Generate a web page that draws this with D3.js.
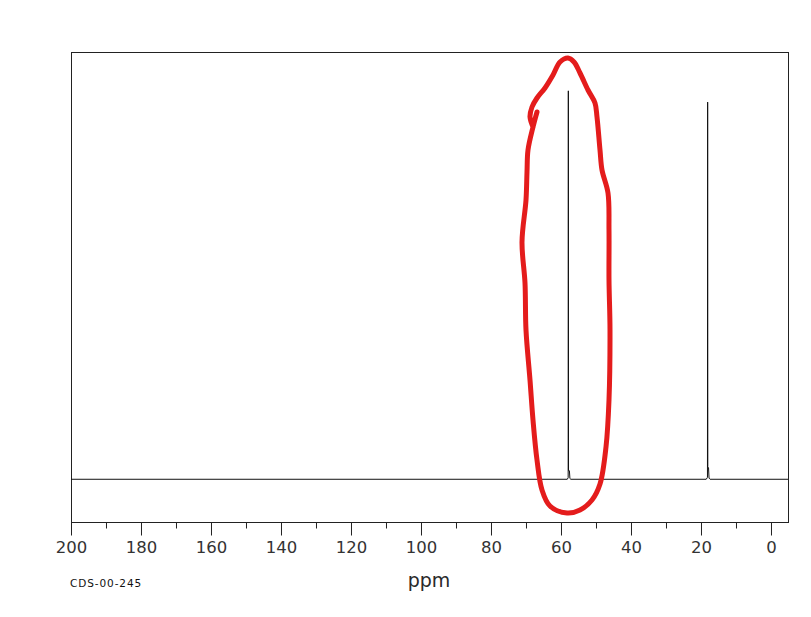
<!DOCTYPE html>
<html>
<head>
<meta charset="utf-8">
<script src="https://cdn.jsdelivr.net/npm/d3@7/dist/d3.min.js"></script>
<style>
  body { margin:0; background:#fff; }
  svg text { font-family: "DejaVu Sans", Verdana, sans-serif; fill:#333; }
</style>
</head>
<body>
<div id="plot"></div>
<script>

// spectrum trace (ppm, relative intensity)
var spectrumPpm =       [200, 58.2, 57.95, 57.9, 57.85, 57.6, 57.45, 57.2, 18.5, 18.15, 18.1, 18.05, 17.85, 17.7, 17.4, -4.86];
var spectrumIntensity = [0,   0,    0.004, 1.0,  0.022, 0.022, 0.002, 0,   0,    0.005, 0.971, 0.032, 0.03, 0.003, 0,  0];

var majorTicks = d3.range(0, 201, 20);
var minorTicks = d3.range(10, 200, 20);
var axisTitle = 'ppm';
var sampleId = 'CDS-00-245';

// hand drawn red loop around the 58 ppm peak (screen pixels)
var loopPts = [[537,112],[533,127],[528,150],[527,172],[526,200],[522,242],[525,283],[526,330],
	[530,380],[533,420],[537,460],[542,490],[550,506],[567,513],[580,510],[592,500],[600,484],
	[606,447],[609,400],[610,330],[609,280],[609,230],[608,193],[602,170],[600,150],[597,117],
	[595,103],[588,90],[580,73],[574,62],[568,58],[560,62],[553,75],[545,88],[537,98],
	[532,107],[530,117],[533,127]];

var opt = {
	width: 811,
	height: 617,
	margin: {top:52, left:71, bottom:95, right:23}
};

var svg = d3.select('#plot').append('svg')
	.attr('width', opt.width)
	.attr('height', opt.height);

var x = d3.scaleLinear().domain([200, -4.86])
	.range([opt.margin.left, opt.width - opt.margin.right]);
var y = d3.scaleLinear().domain([-0.11, 1.1])
	.range([opt.height - opt.margin.bottom, opt.margin.top]);

//frame
svg.append('rect')
	.attr('x', x(200) + 0.5)
	.attr('y', y(1.1) + 0.5)
	.attr('width', x(-4.86) - x(200))
	.attr('height', y(-0.11) - y(1.1))
	.attr('fill', 'none')
	.attr('stroke', '#222')
	.attr('stroke-width', 1);

//ticks
var axisY = y(-0.11) + 0.5;
var gMajor = svg.append('g')
	.attr('transform', 'translate(0,' + axisY + ')')
	.call(d3.axisBottom(x).tickValues(majorTicks).tickSize(13).tickPadding(6).tickFormat(d3.format('d')));
var gMinor = svg.append('g')
	.attr('transform', 'translate(0,' + axisY + ')')
	.call(d3.axisBottom(x).tickValues(minorTicks).tickSize(6).tickFormat(''));

[gMajor, gMinor].forEach(function(g){
	g.select('.domain').remove();
	g.selectAll('line').attr('stroke', '#222');
});
gMajor.selectAll('text')
	.style('font-family', '"DejaVu Sans", Verdana, sans-serif')
	.style('font-size', '16.5px')
	.attr('fill', '#444');

//axis title and sample id
svg.append('text')
	.attr('x', 429)
	.attr('y', 587)
	.attr('text-anchor', 'middle')
	.style('font-size', '19px')
	.style('fill', '#2a2a2a')
	.text(axisTitle);

svg.append('text')
	.attr('x', 70)
	.attr('y', 587)
	.style('font-size', '10.5px')
	.style('letter-spacing', '0.9px')
	.style('fill', '#111')
	.text(sampleId);

//spectrum
var data = spectrumPpm.map(function(p, i){ return [p, spectrumIntensity[i]]; });
svg.append('path')
	.datum(data)
	.attr('fill', 'none')
	.attr('stroke', '#111')
	.attr('stroke-width', 1)
	.attr('d', d3.line()
		.x(function(d){ return x(d[0]); })
		.y(function(d){ return y(d[1]); }));

//annotation
svg.append('path')
	.datum(loopPts)
	.attr('fill', 'none')
	.attr('stroke', '#e41c1c')
	.attr('stroke-width', 5)
	.attr('stroke-linecap', 'round')
	.attr('stroke-linejoin', 'round')
	.attr('d', d3.line().curve(d3.curveCatmullRom));

</script>
</body>
</html>
